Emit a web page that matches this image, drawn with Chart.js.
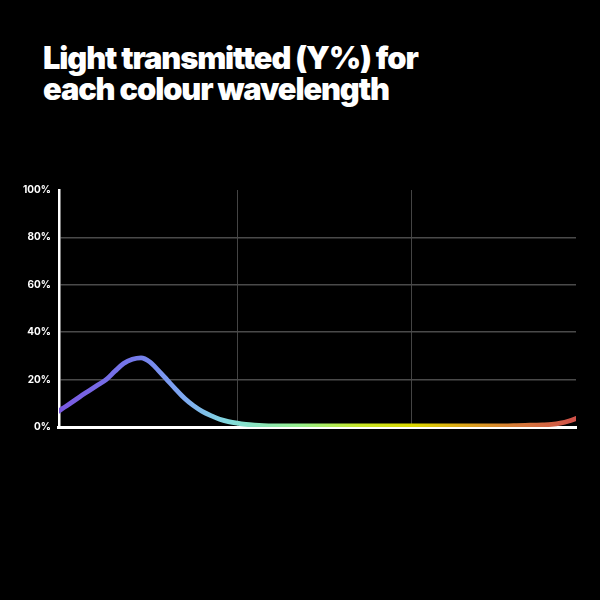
<!DOCTYPE html>
<html>
<head>
<meta charset="utf-8">
<script src="https://cdn.jsdelivr.net/npm/chart.js@4.4.1/dist/chart.umd.min.js"></script>
<style>
  html, body { margin: 0; padding: 0; background: #000; }
  #wrap { position: relative; width: 600px; height: 600px; background: #000; }
  #title {
    position: absolute; left: 43px; top: 42px; margin: 0;
    color: #fff; font-family: Inter, "Liberation Sans", sans-serif;
    font-weight: 900; font-size: 30.8px; line-height: 31px; letter-spacing: -1.1px;
  }
  #chart { position: absolute; left: 0; top: 0; }
</style>
</head>
<body>
<div id="wrap">
  <h1 id="title">Light transmitted (Y%) for<br>each colour wavelength</h1>
  <canvas id="chart" width="600" height="600"></canvas>
</div>
<script>
// wavelength (nm) and transmitted light (Y%)
let wavelengths = [395, 400, 405, 410, 415, 420, 425, 430, 435, 440, 445, 450, 455, 460, 465, 470, 475, 480, 485, 490,
  495, 500, 505, 510, 515, 520, 530, 540, 550, 560, 570, 580, 590, 600, 610, 620, 630, 640, 650, 655,
  660, 665, 670, 675, 680, 685, 690, 695];
let transmitted = [5.2, 7.8, 10.2, 12.8, 15.2, 17.6, 20.0, 23.5, 26.8, 28.6, 29.2, 27.5, 23.8, 19.8, 15.8, 12.0, 9.0, 6.6, 4.8, 3.3,
  2.3, 1.6, 1.1, 0.8, 0.6, 0.5, 0.5, 0.5, 0.5, 0.5, 0.5, 0.5, 0.5, 0.5, 0.5, 0.5, 0.5, 0.5, 0.5, 0.5,
  0.6, 0.7, 0.8, 0.9, 1.1, 1.6, 2.5, 3.8];
let yTicks = [0, 20, 40, 60, 80, 100];
let xGridAt = [500, 600];

// spectrum colours along the line
const spectrum = [
  [398, '#7a58e0'], [440, '#7478ea'], [470, '#7eaaf2'], [496, '#82dcdc'],
  [536, '#96f08c'], [570, '#c8e628'], [600, '#dcd800'], [628, '#dca818'],
  [662, '#d6783a'], [694, '#d0504a']
];

let ctx = document.getElementById('chart');

function spectrumGradient(context) {
  const chart = context.chart;
  const area = chart.chartArea;
  if (!area) return '#7a58e0';
  const xs = chart.scales.x;
  const x0 = xs.getPixelForValue(xs.min), x1 = xs.getPixelForValue(xs.max);
  const g = chart.ctx.createLinearGradient(x0, 0, x1, 0);
  spectrum.forEach(([nm, col]) => {
    g.addColorStop(Math.min(1, Math.max(0, (nm - xs.min) / (xs.max - xs.min))), col);
  });
  return g;
}

let chart = new Chart(ctx, {
  type: 'line',
  data: {
    labels: wavelengths,
    datasets: [{
      label: 'Y%',
      data: wavelengths.map((w, i) => ({ x: w, y: transmitted[i] })),
      borderColor: spectrumGradient,
      borderWidth: 4.8,
      pointRadius: 0,
      cubicInterpolationMode: 'monotone',
      fill: false,
      clip: 0
    }]
  },
  options: {
    responsive: false,
    animation: false,
    devicePixelRatio: 1,
    layout: { padding: { top: 190, right: 24, bottom: 173, left: 15 } },
    plugins: { legend: { display: false }, tooltip: { enabled: false } },
    scales: {
      x: {
        type: 'linear',
        min: 398,
        max: 694,
        afterBuildTicks: (axis) => { axis.ticks = xGridAt.map(v => ({ value: v })); },
        ticks: { display: false },
        grid: { color: '#444', lineWidth: 1, drawTicks: false },
        border: { display: true, color: '#fff', width: 3 }
      },
      y: {
        min: 0,
        max: 100,
        afterBuildTicks: (axis) => { axis.ticks = yTicks.map(v => ({ value: v })); },
        ticks: {
          color: '#fff',
          padding: 8,
          font: { family: 'Inter', weight: 'bold', size: 10 },
          callback: (v) => v + '%'
        },
        grid: {
          color: (c) => (c.tick.value === 0 || c.tick.value === 100) ? 'rgba(0,0,0,0)' : '#4a4a4a',
          lineWidth: 1.5,
          drawTicks: false
        },
        border: { display: true, color: '#fff', width: 2.5 }
      }
    }
  }
});
</script>
</body>
</html>
